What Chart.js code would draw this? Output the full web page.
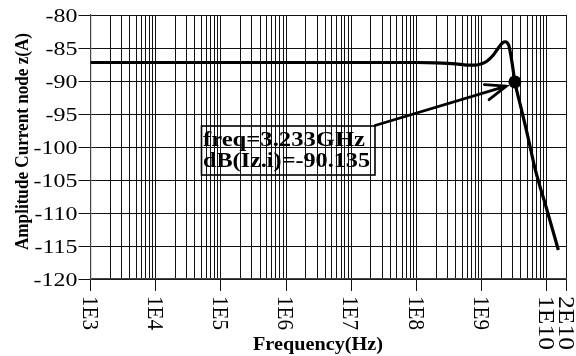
<!DOCTYPE html>
<html>
<head>
<meta charset="utf-8">
<script src="https://cdn.jsdelivr.net/npm/chart.js@4"></script>
<style>
  html, body { margin: 0; padding: 0; background: #fff; }
  #c { display: block; }
</style>
</head>
<body>
<canvas id="c" width="576" height="356"></canvas>
<script>
// ---- data ----
const freqHz = [1e3, 1e4, 1e5, 1e6, 1e7, 1e8, 2e8, 4e8, 6e8, 8e8, 1e9, 1.2e9, 1.5e9, 1.8e9, 2.1e9, 2.3e9, 2.6e9, 2.9e9, 3.233e9, 4e9, 5e9, 6.6e9, 1e10, 1.5e10];
const ampDb  = [-87.2, -87.2, -87.2, -87.2, -87.2, -87.2, -87.25, -87.4, -87.6, -87.6, -87.4, -87.0, -86.1, -85.0, -84.2, -84.05, -84.6, -87.0, -90.135, -94.0, -98.0, -103.3, -109.5, -115.6];
const markerFreq = [3.233e9];
const markerAmp = [-90.135];
const markerText = ['freq=3.233GHz', 'dB(Iz.i)=-90.135'];
const yTickValues = [-120, -115, -110, -105, -100, -95, -90, -85, -80];
const xTickValues = [1e3, 1e4, 1e5, 1e6, 1e7, 1e8, 1e9, 1e10, 2e10];
const xTickLabels = ['1E3', '1E4', '1E5', '1E6', '1E7', '1E8', '1E9', '1E10', '2E10'];
const xTitle = 'Frequency(Hz)';
const yTitle = 'Amplitude Current node z(A)';

// grid values: 1..9 x each decade, plus the 2E10 end
const gridValues = [];
for (let e = 3; e <= 9; e++) for (let k = 1; k <= 9; k++) gridValues.push(k * Math.pow(10, e));
gridValues.push(1e10, 2e10);

const SERIF = '"Liberation Serif", "DejaVu Serif", serif';
const GRID = '#111';

function drawScaled(ctx, text, x, y, o) {
  ctx.save();
  ctx.font = o.font;
  ctx.translate(x, y);
  if (o.rot) ctx.rotate(o.rot);
  const w = ctx.measureText(text).width;
  const sx = o.width ? o.width / w : (o.sx || 1);
  ctx.scale(sx, o.sy || 1);
  ctx.textAlign = o.align || 'left';
  ctx.textBaseline = o.baseline || 'alphabetic';
  ctx.fillStyle = '#000';
  ctx.fillText(text, 0, o.dy || 0);
  ctx.restore();
}

const textPlugin = {
  id: 'texts',
  afterDraw(chart) {
    const ctx = chart.ctx;
    const xs = chart.scales.x, ys = chart.scales.y;
    // y tick labels
    yTickValues.forEach(v => {
      const py = ys.getPixelForValue(v);
      drawScaled(ctx, String(v), 77.5, py + 6.5, {font: '18px ' + SERIF, sx: 1.33, align: 'right'});
    });
    // x tick labels (rotated clockwise)
    xTickValues.forEach((v, i) => {
      const px = xs.getPixelForValue(v);
      const lab = xTickLabels[i];
      drawScaled(ctx, lab, px, 296, {font: '20px ' + SERIF, rot: Math.PI / 2,
        width: lab.length > 3 ? 54 : 34, sy: 1.2, dy: 6.6});
    });
    // axis titles
    drawScaled(ctx, xTitle, 253, 350, {font: 'bold 19px ' + SERIF, width: 130});
    drawScaled(ctx, yTitle, 28, 141.5, {font: 'bold 18px ' + SERIF, rot: -Math.PI / 2, width: 217, align: 'center'});

    // marker annotation: box, text, arrow
    const mx = xs.getPixelForValue(markerFreq[0]);
    const my = ys.getPixelForValue(markerAmp[0]);
    ctx.save();
    ctx.strokeStyle = '#000';
    ctx.lineWidth = 1.6;
    ctx.strokeRect(201.5, 126, 173.5, 49);
    ctx.restore();
    drawScaled(ctx, markerText[0], 203, 146, {font: 'bold 21px ' + SERIF, width: 162});
    drawScaled(ctx, markerText[1], 203, 167, {font: 'bold 21px ' + SERIF, width: 167});

    const sx0 = 375, sy0 = 125.5;
    const dx = mx - sx0, dy = my - sy0;
    const len = Math.hypot(dx, dy);
    const ux = dx / len, uy = dy / len;
    const tx = mx - 9 * ux, ty = my - 9 * uy + 1.5;
    ctx.save();
    ctx.strokeStyle = '#000';
    ctx.lineWidth = 2.8;
    ctx.lineCap = 'round';
    ctx.beginPath();
    ctx.moveTo(sx0, sy0);
    ctx.lineTo(tx, ty);
    const back = Math.atan2(-uy, -ux);
    const L = 22, a = 21 * Math.PI / 180;
    ctx.moveTo(tx + L * Math.cos(back + a), ty + L * Math.sin(back + a));
    ctx.lineTo(tx, ty);
    ctx.lineTo(tx + L * Math.cos(back - a), ty + L * Math.sin(back - a));
    ctx.stroke();
    ctx.restore();
  }
};

new Chart(document.getElementById('c'), {
  type: 'line',
  data: {
    datasets: [
      {
        data: freqHz.map((f, i) => ({x: f, y: ampDb[i]})),
        borderColor: '#000',
        borderWidth: 3.2,
        pointRadius: 0,
        cubicInterpolationMode: 'monotone',
        fill: false
      },
      {
        data: markerFreq.map((f, i) => ({x: f, y: markerAmp[i]})),
        showLine: false,
        pointRadius: 6.5,
        pointBackgroundColor: '#000',
        pointBorderColor: '#000',
        pointBorderWidth: 0
      }
    ]
  },
  options: {
    responsive: false,
    animation: false,
    events: [],
    layout: {padding: {top: 15, right: 9.5, left: 0, bottom: 0}},
    plugins: {legend: {display: false}, tooltip: {enabled: false}, title: {display: false}},
    scales: {
      x: {
        type: 'logarithmic',
        min: 1e3,
        max: 2e10,
        afterBuildTicks: s => { s.ticks = gridValues.map(v => ({value: v})); },
        afterFit: s => { s.height = 77; },
        ticks: {display: false},
        grid: {
          color: GRID,
          lineWidth: 1,
          drawTicks: true,
          tickLength: 12,
          tickColor: c => (c.tick && xTickValues.includes(c.tick.value)) ? GRID : 'rgba(0,0,0,0)'
        },
        border: {display: true, color: '#444', width: 1.2}
      },
      y: {
        type: 'linear',
        min: -120,
        max: -80,
        afterBuildTicks: s => { s.ticks = yTickValues.map(v => ({value: v})); },
        afterFit: s => { s.width = 90.5; },
        ticks: {display: false},
        grid: {color: GRID, lineWidth: 1, drawTicks: true, tickLength: 12, tickColor: GRID},
        border: {display: true, color: '#444', width: 1.2}
      }
    }
  },
  plugins: [textPlugin]
});
</script>
</body>
</html>
